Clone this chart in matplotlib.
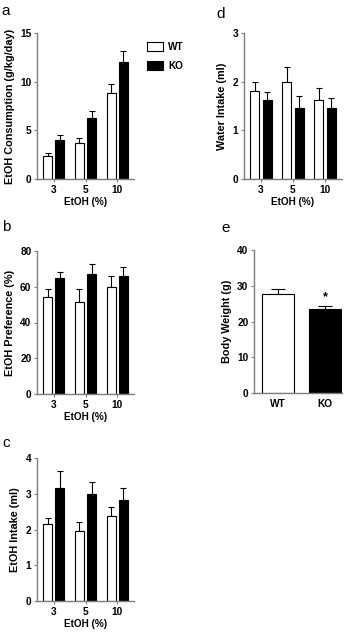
import numpy as np
import matplotlib
matplotlib.use("Agg")
import matplotlib.pyplot as plt
from matplotlib.patches import Patch

# dados
conc = ["3", "5", "10"]
grupos = ["WT", "KO"]

cons_wt = [2.4, 3.7, 8.8]
cons_wt_err = [0.25, 0.5, 1.0]
cons_ko = [4.0, 6.3, 12.0]
cons_ko_err = [0.5, 0.65, 1.2]

pref_wt = [54.5, 51.5, 60.0]
pref_wt_err = [4.5, 7.0, 6.0]
pref_ko = [65.0, 67.0, 66.0]
pref_ko_err = [3.5, 5.5, 5.0]

intake_wt = [2.15, 1.97, 2.38]
intake_wt_err = [0.17, 0.23, 0.24]
intake_ko = [3.15, 2.98, 2.83]
intake_ko_err = [0.5, 0.36, 0.32]

agua_wt = [1.8, 2.0, 1.62]
agua_wt_err = [0.2, 0.3, 0.25]
agua_ko = [1.62, 1.45, 1.45]
agua_ko_err = [0.17, 0.25, 0.22]

peso = [27.7, 23.4]
peso_err = [1.3, 0.8]

plt.rcParams["font.family"] = ["Liberation Sans", "DejaVu Sans"]
plt.rcParams["font.weight"] = "bold"

W, H = 350, 636
fig = plt.figure(figsize=(W / 100, H / 100), dpi=100)

spine_cor = "#7f7f7f"
tam_tick = 7.3
tam_ylab = 7.8


def eixo(x0, x1, ytop, ybot):
    ax = fig.add_axes([x0 / W, 1 - ybot / H, (x1 - x0) / W, (ybot - ytop) / H])
    ax.spines["top"].set_visible(False)
    ax.spines["right"].set_visible(False)
    for s in ["left", "bottom"]:
        ax.spines[s].set_color(spine_cor)
        ax.spines[s].set_linewidth(1.0)
    ax.tick_params(direction="out", length=2.5, width=0.8, color=spine_cor,
                   labelsize=tam_tick, pad=1.5)
    return ax


def barras(ax, wt, wt_err, ko, ko_err, ylim, yticks, ylabel):
    x = np.arange(len(conc))
    w = 0.28
    d = 0.19
    ax.bar(x - d, wt, w, color="white", edgecolor="black", linewidth=0.8, zorder=2)
    ax.bar(x + d, ko, w, color="black", edgecolor="black", linewidth=0.8, zorder=2)
    ax.errorbar(x - d, wt, yerr=[np.zeros(len(wt)), wt_err], fmt="none",
                ecolor="black", elinewidth=0.8, capsize=2.2, capthick=0.8, zorder=1)
    ax.errorbar(x + d, ko, yerr=[np.zeros(len(ko)), ko_err], fmt="none",
                ecolor="black", elinewidth=0.8, capsize=2.2, capthick=0.8, zorder=1)
    ax.set_xlim(-0.53, 2.53)
    ax.set_ylim(*ylim)
    ax.set_yticks(yticks)
    ax.set_xticks(x)
    ax.set_xticklabels(conc, fontweight="bold", fontsize=tam_tick)
    ax.set_yticklabels([str(v) for v in yticks], fontweight="bold", fontsize=tam_tick)
    ax.set_xlabel("EtOH (%)", fontsize=7.2, fontweight="bold", labelpad=2)
    ax.set_ylabel(ylabel, fontsize=tam_ylab, fontweight="bold", labelpad=4)


ax_a = eixo(37, 134, 33, 179)
barras(ax_a, cons_wt, cons_wt_err, cons_ko, cons_ko_err, (0, 15), [0, 5, 10, 15],
       "EtOH Consumption (g/kg/day)")

ax_b = eixo(37, 134, 251, 394)
barras(ax_b, pref_wt, pref_wt_err, pref_ko, pref_ko_err, (0, 80), [0, 20, 40, 60, 80],
       "EtOH Preference (%)")

ax_c = eixo(37, 134, 458, 601)
barras(ax_c, intake_wt, intake_wt_err, intake_ko, intake_ko_err, (0, 4), [0, 1, 2, 3, 4],
       "EtOH Intake (ml)")

ax_d = eixo(244, 342, 33, 179)
barras(ax_d, agua_wt, agua_wt_err, agua_ko, agua_ko_err, (0, 3), [0, 1, 2, 3],
       "Water Intake (ml)")

# peso corporal
ax_e = eixo(254, 342, 250, 393)
xe = np.arange(len(grupos))
ax_e.bar(xe, peso, 0.68, color=["white", "black"], edgecolor="black", linewidth=0.8, zorder=2)
ax_e.errorbar(xe, peso, yerr=[np.zeros(2), peso_err], fmt="none", ecolor="black",
              elinewidth=0.8, capsize=5, capthick=0.8, zorder=1)
ax_e.set_xlim(-0.51, 1.36)
ax_e.set_ylim(0, 40)
ax_e.set_yticks([0, 10, 20, 30, 40])
ax_e.set_yticklabels(["0", "10", "20", "30", "40"], fontweight="bold", fontsize=tam_tick)
ax_e.set_xticks(xe)
ax_e.set_xticklabels(grupos, fontweight="bold", fontsize=tam_tick)
ax_e.tick_params(axis="x", length=0, pad=4)
ax_e.set_ylabel("Body Weight (g)", fontsize=tam_ylab, fontweight="bold", labelpad=4)
ax_e.text(1, peso[1] + peso_err[1] + 1.0, "*", ha="center", va="bottom",
          fontsize=9, fontweight="bold")

# letras dos painéis
for letra, px, py in [("a", 6, 11), ("b", 6, 227), ("c", 6, 443),
                      ("d", 221, 14), ("e", 226, 228)]:
    fig.text(px / W, 1 - py / H, letra, fontsize=11, fontweight="normal",
             ha="center", va="center")

# legenda
handles = [Patch(facecolor="white", edgecolor="black", linewidth=0.8),
           Patch(facecolor="black", edgecolor="black", linewidth=0.8)]
fig.legend(handles, grupos, loc="upper left", bbox_to_anchor=(138 / W, 1 - 33 / H),
           frameon=False, handlelength=1.6, handleheight=0.9,
           labelspacing=0.9, handletextpad=0.5, prop={"weight": "bold", "size": 7.2})

fig.savefig("out.png", dpi=100)
